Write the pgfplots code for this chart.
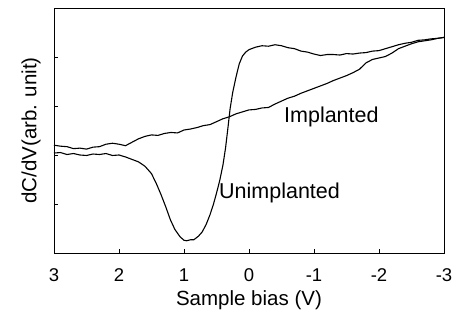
\documentclass[border=0pt]{standalone}
\usepackage{pgfplots}
\pgfplotsset{compat=1.18}
\usepackage{fontspec}
\setmainfont{Liberation Sans}
\begin{document}
\begin{tikzpicture}
\useasboundingbox (-54pt,-67pt) rectangle (405pt,253pt);
\begin{axis}[
  at={(0,0)}, anchor=south west,
  scale only axis, width=390pt, height=245pt,
  xmin=-3, xmax=3, ymin=0, ymax=5,
  x dir=reverse,
  axis line style={line width=0.9pt},
  xtick={-3,-2,-1,0,1,2,3},
  xticklabels={-3,-2,-1,0,1,2,3},
  ytick={1,2,3,4}, yticklabels={},
  tick align=inside, major tick length=4pt,
  xtick pos=bottom, ytick pos=left,
  tick style={line width=0.8pt,black},
  xticklabel style={anchor=center, yshift=-22pt, font=\fontsize{18.5}{20}\selectfont},
  xlabel={Sample bias (V)},
  ylabel={dC/dV(arb. unit)},
  xlabel style={at={(axis description cs:0.5,0)}, anchor=center, yshift=-47pt, font=\fontsize{20.5}{22}\selectfont},
  ylabel style={at={(axis description cs:0,0.5)}, anchor=center, yshift=23pt, font=\fontsize{20.5}{22}\selectfont},
  clip=false,
]
\addplot[black, line width=1.1pt] coordinates {
(3.00,2.04)(2.90,2.05)(2.80,2.01)(2.70,2.03)(2.60,2.00)(2.50,1.99)(2.40,2.02)(2.30,2.01)(2.20,2.03)(2.10,1.99)(2.00,2.00)(1.90,1.96)(1.80,1.91)(1.70,1.86)(1.60,1.77)(1.50,1.62)(1.42,1.40)(1.35,1.18)(1.28,0.94)(1.21,0.68)(1.14,0.48)(1.06,0.33)(1.00,0.26)(0.96,0.25)(0.90,0.27)(0.85,0.27)(0.78,0.34)(0.72,0.43)(0.66,0.58)(0.60,0.78)(0.55,0.98)(0.50,1.22)(0.45,1.48)(0.40,1.80)(0.36,2.15)(0.32,2.60)(0.29,2.95)(0.25,3.28)(0.20,3.59)(0.15,3.86)(0.10,4.02)(0.05,4.10)(0.00,4.15)(-0.10,4.20)(-0.20,4.23)(-0.30,4.22)(-0.40,4.25)(-0.50,4.23)(-0.60,4.19)(-0.70,4.17)(-0.80,4.12)(-0.90,4.10)(-1.00,4.06)(-1.10,4.03)(-1.20,4.05)(-1.30,4.05)(-1.40,4.04)(-1.50,4.07)(-1.60,4.06)(-1.70,4.08)(-1.80,4.09)(-1.90,4.12)(-2.00,4.13)(-2.10,4.17)(-2.20,4.21)(-2.30,4.25)(-2.40,4.28)(-2.50,4.30)(-2.60,4.34)(-2.70,4.35)(-2.80,4.37)(-2.90,4.38)(-3.00,4.40)
};
\addplot[black, line width=1.1pt] coordinates {
(3.00,2.20)(2.90,2.18)(2.80,2.17)(2.70,2.13)(2.60,2.14)(2.50,2.12)(2.40,2.16)(2.30,2.17)(2.20,2.22)(2.10,2.24)(2.00,2.22)(1.90,2.19)(1.80,2.26)(1.70,2.33)(1.60,2.38)(1.50,2.41)(1.40,2.40)(1.30,2.44)(1.20,2.46)(1.10,2.45)(1.00,2.51)(0.90,2.53)(0.80,2.56)(0.70,2.60)(0.60,2.62)(0.50,2.68)(0.40,2.74)(0.30,2.78)(0.20,2.84)(0.10,2.88)(0.00,2.92)(-0.10,2.93)(-0.20,2.96)(-0.30,2.97)(-0.40,3.04)(-0.50,3.10)(-0.60,3.16)(-0.70,3.20)(-0.80,3.26)(-0.90,3.31)(-1.00,3.36)(-1.10,3.41)(-1.20,3.46)(-1.30,3.52)(-1.40,3.57)(-1.50,3.62)(-1.60,3.68)(-1.70,3.75)(-1.80,3.88)(-1.90,3.95)(-2.00,3.98)(-2.10,4.01)(-2.20,4.08)(-2.30,4.17)(-2.40,4.22)(-2.50,4.27)(-2.60,4.31)(-2.70,4.33)(-2.80,4.35)(-2.90,4.38)(-3.00,4.40)
};
\node[anchor=base west, inner sep=0pt, font=\fontsize{21.5}{23}\selectfont] at (axis cs:-0.538,2.673) {Implanted};
\node[anchor=base west, inner sep=0pt, font=\fontsize{21.5}{23}\selectfont] at (axis cs:0.462,1.102) {Unimplanted};
\end{axis}
\end{tikzpicture}
\end{document}
